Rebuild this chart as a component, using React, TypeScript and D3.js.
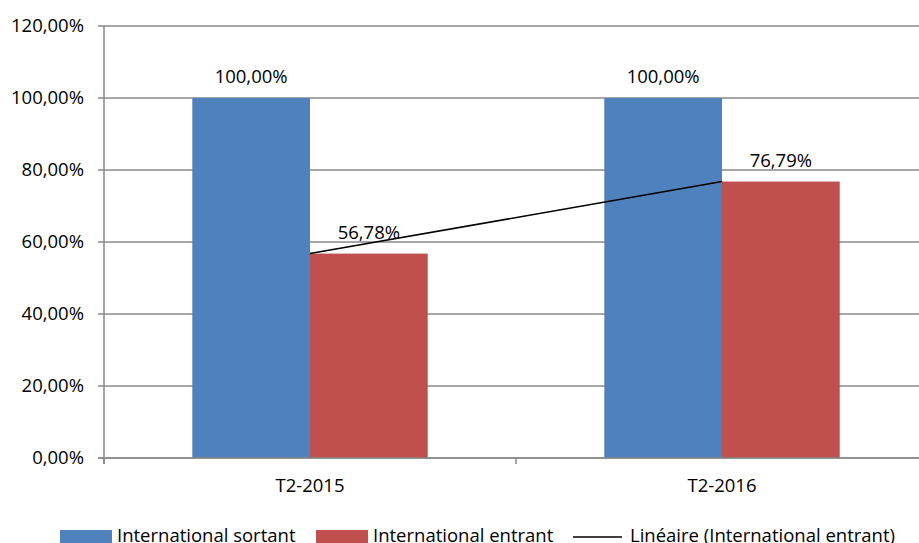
import React from "react";
import * as d3 from "d3";

const categories = ["T2-2015", "T2-2016"];
const seriesNames = ["International sortant", "International entrant"];
const sortant = [100.0, 100.0];
const entrant = [56.78, 76.79];
const yTicks = [0, 20, 40, 60, 80, 100, 120];
const trendName = "Linéaire (International entrant)";
const colors = ["#4F81BD", "#C0504D"];

const fmt = (v: number) => v.toFixed(2).replace(".", ",") + "%";

export default function App() {
  const W = 919, H = 543;
  const left = 104, right = 928, top = 26, bottom = 458;
  const font = "'Open Sans', sans-serif";
  const fs = 18.5;

  const x = d3.scaleBand<string>().domain(categories).range([left, right]);
  const y = d3.scaleLinear().domain([0, 120]).range([bottom, top]);
  const bw = x.bandwidth();
  const barW = bw / 3.5;
  const series = [sortant, entrant];

  const trendX = (i: number) => (x(categories[i]) as number) + bw / 2;
  const line = d3
    .line<number>()
    .x((_, i) => trendX(i))
    .y((d) => y(d));

  return (
    <svg
      width={W}
      height={H}
      style={{ position: "absolute", left: 0, top: 0, background: "#fff" }}
      fontFamily={font}
    >
      {yTicks.map((t) => (
        <g key={t}>
          <line x1={98} x2={right} y1={y(t)} y2={y(t)} stroke="#888" strokeWidth={1.5} />
          <text x={84} y={y(t)} dy="0.35em" textAnchor="end" fontSize={fs} fill="#000">
            {fmt(t)}
          </text>
        </g>
      ))}
      <line x1={left} x2={left} y1={top} y2={bottom + 6} stroke="#888" strokeWidth={1.5} />
      {[0, 1, 2].map((i) => (
        <line
          key={i}
          x1={left + i * bw}
          x2={left + i * bw}
          y1={bottom}
          y2={bottom + 6}
          stroke="#888"
          strokeWidth={1.5}
        />
      ))}
      {categories.map((c, ci) => {
        const cx = (x(c) as number) + bw / 2;
        return (
          <g key={c}>
            {series.map((s, si) => {
              const bx = cx - barW + si * barW;
              return (
                <g key={si}>
                  <rect x={bx} y={y(s[ci])} width={barW} height={bottom - y(s[ci])} fill={colors[si]} />
                  <text x={bx + barW / 2} y={y(s[ci]) - 15} textAnchor="middle" fontSize={fs} fill="#000">
                    {fmt(s[ci])}
                  </text>
                </g>
              );
            })}
            <text x={cx} y={492} textAnchor="middle" fontSize={fs} fill="#000">
              {c}
            </text>
          </g>
        );
      })}
      <path d={line(entrant) as string} fill="none" stroke="#000" strokeWidth={1.5} />
      <line x1={98} x2={right} y1={bottom} y2={bottom} stroke="#888" strokeWidth={1.5} />
      {/* legend */}
      <g>
        <rect x={60} y={530} width={52} height={14} fill={colors[0]} />
        <text x={117} y={542} fontSize={fs}>{seriesNames[0]}</text>
        <rect x={316} y={530} width={52} height={14} fill={colors[1]} />
        <text x={373} y={542} fontSize={fs}>{seriesNames[1]}</text>
        <line x1={573} x2={622} y1={537} y2={537} stroke="#000" strokeWidth={1.5} />
        <text x={630} y={542} fontSize={fs}>{trendName}</text>
      </g>
    </svg>
  );
}
